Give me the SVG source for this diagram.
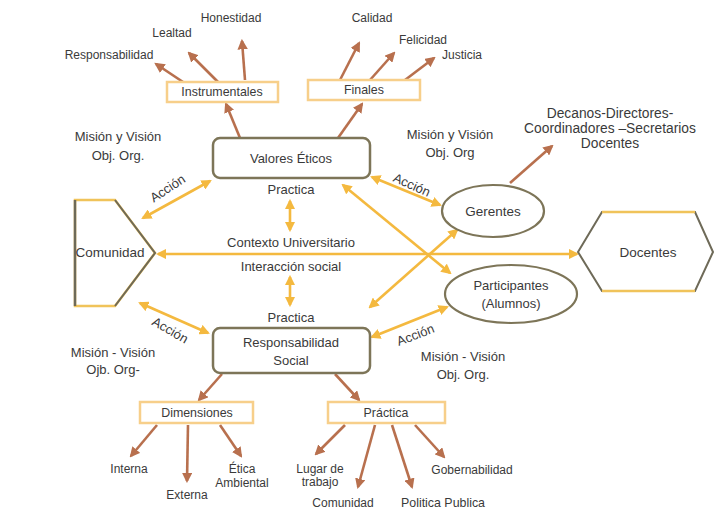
<svg xmlns="http://www.w3.org/2000/svg" width="714" height="520" viewBox="0 0 714 520">
<style>
text{font-family:"Liberation Sans",Arial,sans-serif;fill:#3a3a3a;font-size:12px;text-anchor:middle}
.big{font-size:13.5px}
.mid{font-size:13px}
.dec{font-size:13.8px}
.bx{font-size:12.4px}
.br{stroke:#b8704e;stroke-width:2.6;fill:none;marker-end:url(#mb)}
.gd2{stroke:#f4b93f;stroke-width:2.6;fill:none;marker-end:url(#mg);marker-start:url(#mg)}
.lbox{fill:#fff;stroke:#f7cf8a;stroke-width:2.5}
.mbox{fill:#fff;stroke:#7d7558;stroke-width:2.5}
</style>
<defs>
<marker id="mb" viewBox="0 0 10 10" refX="8" refY="5" markerWidth="4" markerHeight="4" orient="auto-start-reverse"><path d="M0,0 L10,5 L0,10 z" fill="#b8704e"/></marker>
<marker id="mg" viewBox="0 0 10 10" refX="8" refY="5" markerWidth="4" markerHeight="4" orient="auto-start-reverse"><path d="M0,0 L10,5 L0,10 z" fill="#f4b93f"/></marker>
</defs>
<rect width="714" height="520" fill="#fff"/>
<g id="connectors">
<line class="br" x1="240" y1="138" x2="226" y2="104"/>
<line class="br" x1="338" y1="138" x2="362" y2="104"/>
<line class="br" x1="183" y1="82" x2="156" y2="64"/>
<line class="br" x1="218" y1="82" x2="189" y2="53"/>
<line class="br" x1="245" y1="80" x2="242" y2="41"/>
<line class="br" x1="340" y1="80" x2="359" y2="43"/>
<line class="br" x1="370" y1="80" x2="394" y2="53"/>
<line class="br" x1="405" y1="80" x2="434" y2="58"/>
<line class="br" x1="510" y1="183" x2="552" y2="146"/>
<line class="br" x1="222" y1="374" x2="199" y2="400"/>
<line class="br" x1="335" y1="374" x2="359" y2="400"/>
<line class="br" x1="157" y1="425" x2="131" y2="456"/>
<line class="br" x1="188" y1="425" x2="187" y2="481"/>
<line class="br" x1="220" y1="425" x2="241" y2="456"/>
<line class="br" x1="345" y1="425" x2="316" y2="454"/>
<line class="br" x1="375" y1="425" x2="358" y2="487"/>
<line class="br" x1="392" y1="425" x2="412" y2="487"/>
<line class="br" x1="415" y1="425" x2="444" y2="457"/>
<line class="gd2" x1="143" y1="218" x2="210" y2="181"/>
<line class="gd2" x1="140" y1="303" x2="208" y2="333"/>
<line class="gd2" x1="372" y1="177" x2="440" y2="205"/>
<line class="gd2" x1="372" y1="337" x2="447" y2="307"/>
<line class="gd2" x1="343" y1="185" x2="450" y2="273"/>
<line class="gd2" x1="457" y1="230" x2="370" y2="307"/>
<line class="gd2" x1="158" y1="254" x2="577" y2="254"/>
<line class="gd2" x1="290" y1="201" x2="290" y2="230"/>
<line class="gd2" x1="290" y1="277" x2="290" y2="305"/>
</g>
<g id="valores"><rect class="mbox" x="213" y="138" width="157" height="40" rx="7"/><text class="mid" x="291" y="163">Valores Éticos</text></g>
<g id="responsabilidad"><rect class="mbox" x="213" y="328" width="157" height="45" rx="7"/><text class="mid" x="291" y="347">Responsabilidad</text><text class="mid" x="291" y="365">Social</text></g>
<g id="comunidad"><polygon points="75,200 115,200 155,253 115,306 75,306" fill="#fff" stroke="#f0c35a" stroke-width="2.5"/><polyline points="75,200 75,306" stroke="#6e6a58" stroke-width="2.5" fill="none"/><polyline points="115,200 155,253 115,306" stroke="#6e6a58" stroke-width="2" fill="none"/><text class="big" x="110" y="257">Comunidad</text></g>
<g id="docentes"><polygon points="578,252 602,212 695,212 713,252 695,291 602,291" fill="#fff" stroke="#6e6a58" stroke-width="2"/><line x1="602" y1="212" x2="695" y2="212" stroke="#f0c35a" stroke-width="2.5"/><line x1="602" y1="291" x2="695" y2="291" stroke="#f0c35a" stroke-width="2.5"/><text class="big" x="648" y="257">Docentes</text></g>
<g id="gerentes"><ellipse cx="493" cy="211" rx="51" ry="26" fill="#fff" stroke="#7d7558" stroke-width="2.2"/><text class="big" x="493" y="216">Gerentes</text></g>
<g id="participantes"><ellipse cx="511" cy="294" rx="66" ry="29" fill="#fff" stroke="#7d7558" stroke-width="2.2"/><text class="mid" x="511" y="290">Participantes</text><text class="mid" x="511" y="308">(Alumnos)</text></g>
<g id="instrumentales"><rect class="lbox" x="167" y="82" width="111" height="20"/><text class="bx" x="222" y="96">Instrumentales</text></g>
<g id="finales"><rect class="lbox" x="308" y="80" width="112" height="20"/><text class="bx" x="364" y="94">Finales</text></g>
<g id="dimensiones"><rect class="lbox" x="140" y="402" width="113" height="21"/><text class="bx" x="197" y="417">Dimensiones</text></g>
<g id="practica-box"><rect class="lbox" x="328" y="402" width="117" height="21"/><text class="bx" x="386" y="417">Práctica</text></g>
<g id="labels">
<text x="109" y="59">Responsabilidad</text>
<text x="172" y="37">Lealtad</text>
<text x="231" y="22">Honestidad</text>
<text x="372" y="22">Calidad</text>
<text x="423" y="44">Felicidad</text>
<text x="462" y="59">Justicia</text>
<text class="dec" x="610" y="118">Decanos-Directores-</text>
<text class="dec" x="610" y="133">Coordinadores –Secretarios</text>
<text class="dec" x="610" y="148">Docentes</text>
<text class="mid" x="118" y="141">Misión y Visión</text>
<text class="mid" x="118" y="160">Obj. Org.</text>
<text class="mid" x="450" y="139">Misión  y Visión</text>
<text class="mid" x="450" y="157">Obj. Org</text>
<text class="mid" x="291" y="194">Practica</text>
<text class="mid" x="291" y="247">Contexto Universitario</text>
<text class="mid" x="291" y="271">Interacción social</text>
<text class="mid" x="291" y="322">Practica</text>
<text class="mid" x="113" y="357">Misión - Visión</text>
<text class="mid" x="113" y="374">Ojb. Org-</text>
<text class="mid" x="463" y="361">Misión - Visión</text>
<text class="mid" x="463" y="379">Obj. Org.</text>
<text class="mid" transform="translate(170,192) rotate(-33)">Acción</text>
<text class="mid" transform="translate(168,334) rotate(30)">Acción</text>
<text class="mid" transform="translate(410,189) rotate(24)">Acción</text>
<text class="mid" transform="translate(417,339) rotate(-21)">Acción</text>
<text x="129" y="473">Interna</text>
<text x="187" y="499">Externa</text>
<text x="242" y="473">Ética</text>
<text x="242" y="487">Ambiental</text>
<text x="320" y="473">Lugar de</text>
<text x="320" y="486">trabajo</text>
<text x="343" y="507">Comunidad</text>
<text class="bx" x="443" y="507">Politica Publica</text>
<text x="472" y="474">Gobernabilidad</text>
</g>
</svg>
